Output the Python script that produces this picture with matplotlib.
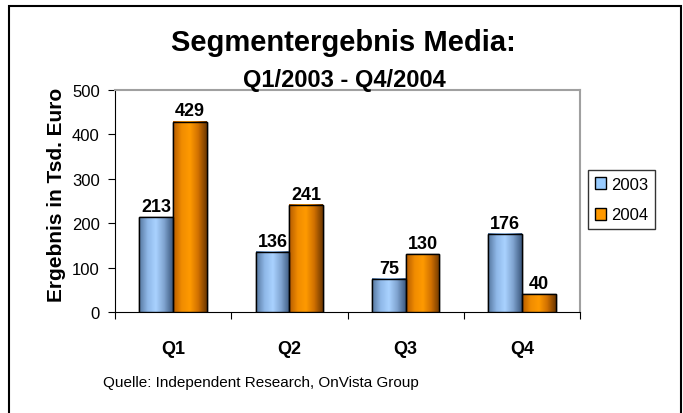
import numpy as np
import matplotlib.pyplot as plt
from matplotlib.patches import Rectangle
from matplotlib.colors import LinearSegmentedColormap

# Daten
quartale = ['Q1', 'Q2', 'Q3', 'Q4']
werte_2003 = [213, 136, 75, 176]
werte_2004 = [429, 241, 130, 40]
y_ticks = [0, 100, 200, 300, 400, 500]

plt.rcParams['font.family'] = ['Liberation Sans', 'DejaVu Sans']

fig = plt.figure(figsize=(6.83, 4.14), dpi=100)
ax = fig.add_axes([115/683, 101/414, 465/683, 222/414])

# Rahmen um die ganze Grafik
fig.patches.append(Rectangle((9/683, -0.1), 672/683, 407/414 + 0.1,
                             transform=fig.transFigure, fill=False,
                             edgecolor='black', linewidth=1.5))

cmap_blau = LinearSegmentedColormap.from_list('blau', ['#56779f', '#8fb8e8', '#a9d2ff', '#7fa3cf', '#3d5a80'])
cmap_orange = LinearSegmentedColormap.from_list('orange', ['#b35a00', '#f08c00', '#ff9a00', '#d07000', '#6e3800'])
grad = np.linspace(0, 1, 64).reshape(1, -1)

x = np.arange(len(quartale))
b = 0.29
bars1 = ax.bar(x - b/2, werte_2003, b, facecolor='#99ccff', edgecolor='black', linewidth=1, zorder=3, label='2003')
bars2 = ax.bar(x + b/2, werte_2004, b, facecolor='#ff9900', edgecolor='black', linewidth=1, zorder=3, label='2004')

# Farbverlauf in den Balken
for bars, cm in ((bars1, cmap_blau), (bars2, cmap_orange)):
    for r in bars:
        x0, w, h = r.get_x(), r.get_width(), r.get_height()
        ax.imshow(grad, cmap=cm, extent=[x0, x0 + w, 0, h], aspect='auto', zorder=3.5)
    ax.bar([r.get_x() + r.get_width()/2 for r in bars], [r.get_height() for r in bars], b,
           facecolor='none', edgecolor='black', linewidth=1, zorder=4)

for bars in (bars1, bars2):
    for r in bars:
        ax.annotate(str(int(r.get_height())), (r.get_x() + r.get_width()/2, r.get_height()),
                    xytext=(0, 1.5), textcoords='offset points',
                    ha='center', va='bottom', fontsize=13, fontweight='bold')

ax.set_xlim(-0.5, 3.5)
ax.set_ylim(0, 500)
ax.set_yticks(y_ticks)
ax.tick_params(axis='y', labelsize=12, length=5, direction='out', pad=6)
ax.set_xticks(np.arange(-0.5, 4, 1))
ax.set_xticklabels([])
ax.tick_params(axis='x', length=5, direction='out')
for i, q in enumerate(quartale):
    ax.annotate(q, (i, 0), xytext=(0, -37*0.72), textcoords='offset points',
                ha='center', va='center', fontsize=13, fontweight='bold')

for s in ('top', 'right'):
    ax.spines[s].set_color('#a0a0a0')
    ax.spines[s].set_linewidth(1.5)

fig.text(56/683, 1 - 195/414, 'Ergebnis in Tsd. Euro', rotation=90, ha='center', va='center',
         fontsize=15, fontweight='bold')

fig.text(343/683, 1 - 43/414, 'Segmentergebnis Media:', ha='center', va='center',
         fontsize=21, fontweight='bold')
fig.text(344/683, 1 - 80/414, 'Q1/2003 - Q4/2004', ha='center', va='center',
         fontsize=17, fontweight='bold')
fig.text(103/683, 1 - 383/414, 'Quelle: Independent Research, OnVista Group', ha='left', va='center',
         fontsize=11)

leg = ax.legend(handles=[bars1, bars2], loc='upper left', bbox_to_anchor=(588/683, 1 - 171/414),
                bbox_transform=fig.transFigure, frameon=True, fancybox=False, fontsize=12,
                handlelength=0.7, handleheight=0.7, handletextpad=0.3, borderpad=0.4,
                labelspacing=0.95, borderaxespad=0)
leg.get_frame().set_edgecolor('black')
leg.get_frame().set_linewidth(1)

fig.savefig('out.png', dpi=100)
